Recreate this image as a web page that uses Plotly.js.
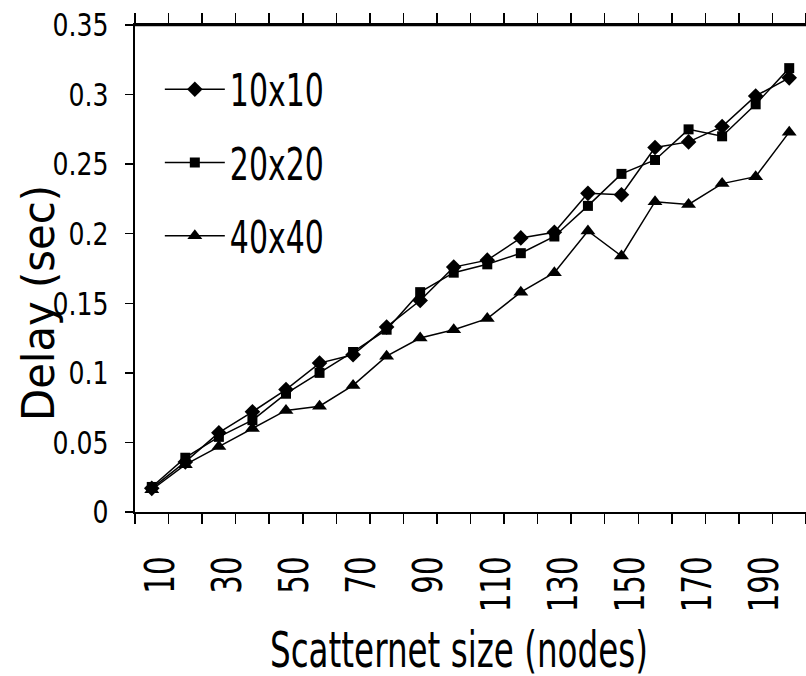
<!DOCTYPE html>
<html>
<head>
<meta charset="utf-8">
<script src="https://cdn.plot.ly/plotly-3.0.1.min.js"></script>
<style>
  html, body { margin: 0; padding: 0; background: #fff; }
  #chart { width: 806px; height: 676px; }
</style>
</head>
<body>
<div id="chart"></div>
<script>
// ---- data ----
const categories = ['10','20','30','40','50','60','70','80','90','100',
                    '110','120','130','140','150','160','170','180','190','200'];
const tickLabels = ['10','','30','','50','','70','','90','',
                    '110','','130','','150','','170','','190',''];
const seriesNames = ['10x10', '20x20', '40x40'];
const delay10x10 = [0.017, 0.036, 0.057, 0.072, 0.088, 0.107, 0.113, 0.133, 0.152, 0.176,
                    0.181, 0.197, 0.201, 0.229, 0.228, 0.262, 0.266, 0.277, 0.299, 0.312];
const delay20x20 = [0.018, 0.039, 0.054, 0.066, 0.085, 0.100, 0.115, 0.131, 0.158, 0.172,
                    0.178, 0.186, 0.198, 0.220, 0.243, 0.253, 0.275, 0.270, 0.293, 0.319];
const delay40x40 = [0.016, 0.034, 0.047, 0.060, 0.073, 0.076, 0.091, 0.112, 0.125, 0.131,
                    0.139, 0.158, 0.172, 0.202, 0.184, 0.223, 0.221, 0.236, 0.241, 0.273];
const yTicks = [0, 0.05, 0.1, 0.15, 0.2, 0.25, 0.3, 0.35];

const FONT = '"DejaVu Sans Condensed", "DejaVu Sans", sans-serif';
const symbols = ['diamond', 'square', 'triangle-up'];
const sizes = [12, 10, 13];
const values = [delay10x10, delay20x20, delay40x40];

const traces = values.map((v, i) => ({
  type: 'scatter',
  mode: 'lines+markers',
  name: seriesNames[i],
  legendgroup: seriesNames[i],
  x: categories,
  y: v,
  line: { color: '#000', width: 1.5 },
  marker: { symbol: symbols[i], size: sizes[i], color: '#000' }
}));

const layout = {
  width: 806, height: 676,
  margin: { l: 135, r: 0, t: 25, b: 164 },
  paper_bgcolor: '#fff', plot_bgcolor: '#fff',
  font: { family: FONT, color: '#000' },
  showlegend: true,
  legend: {
    x: 0.037, xanchor: 'left', y: 0.94, yanchor: 'top',
    bgcolor: 'rgba(0,0,0,0)', borderwidth: 0,
    font: { family: FONT, size: 44, color: '#000' },
    itemwidth: 60, traceorder: 'grouped', tracegroupgap: 13
  },
  shapes: [{
    type: 'line', layer: 'above', xref: 'paper', yref: 'paper',
    x0: 0, x1: 1, y0: 0.999, y1: 0.999,
    line: { color: '#000000', width: 1.5 }
  }],
  xaxis: {
    type: 'category', range: [-0.5, 19.5],
    tickmode: 'array', tickvals: categories, ticktext: tickLabels,
    tickson: 'boundaries', ticks: 'outside', ticklen: 10, tickwidth: 1.5, tickcolor: '#000',
    tickangle: -90, ticklabelstandoff: 26,
    tickfont: { family: FONT, size: 41, color: '#000' },
    showline: true, linecolor: '#000', linewidth: 2, mirror: 'all',
    showgrid: false, zeroline: false,
    title: { text: 'Scatternet size (nodes)', font: { family: FONT, size: 49, color: '#000' } }
  },
  yaxis: {
    range: [0, 0.35], tickmode: 'array', tickvals: yTicks,
    ticks: 'outside', ticklen: 8, tickwidth: 1.5, tickcolor: '#000',
    ticklabelstandoff: 10,
    tickfont: { family: FONT, size: 32, color: '#000' },
    showline: true, linecolor: '#000', linewidth: 2, mirror: false,
    showgrid: false, zeroline: false,
    title: { text: 'Delay (sec)', font: { family: FONT, size: 45, color: '#000' } }
  }
};

// Narrow the text along its own reading direction to match the condensed
// lettering of the reference, keeping each label's anchor fixed.
function squeeze(nodes, refText, targetLen) {
  nodes = nodes.filter(n => n.textContent.trim() !== '');
  if (!nodes.length) return;
  const ref = nodes.find(n => n.textContent.trim() === refText) || nodes[0];
  const w = ref.getBBox().width;
  if (!w) return;
  const s = targetLen / w;
  nodes.forEach(n => {
    const b = n.getBBox();
    const a = n.getAttribute('text-anchor') || 'start';
    const ax = a === 'end' ? b.x + b.width : (a === 'middle' ? b.x + b.width / 2 : b.x);
    const t = n.getAttribute('transform') || '';
    n.setAttribute('transform', t + ' translate(' + ax + ',0) scale(' + s + ',1) translate(' + (-ax) + ',0)');
  });
}
function moveTo(node, cx, cy) {
  if (!node) return;
  const host = document.getElementById('chart').getBoundingClientRect();
  const r = node.getBoundingClientRect();
  const dx = cx - (r.left - host.left + r.width / 2);
  const dy = cy - (r.top - host.top + r.height / 2);
  const t = node.getAttribute('transform') || '';
  node.setAttribute('transform', 'translate(' + dx + ',' + dy + ') ' + t);
}
function shiftAll(nodes, dx, dy) {
  nodes.forEach(n => {
    const t = n.getAttribute('transform') || '';
    n.setAttribute('transform', 'translate(' + dx + ',' + dy + ') ' + t);
  });
}

Plotly.newPlot('chart', traces, layout, { staticPlot: true }).then(gd => {
  const q = sel => Array.from(gd.querySelectorAll(sel));
  squeeze(q('.ytick text'), '0.35', 56);
  const xt = q('.xtick text');
  squeeze(xt, '110', 56);
  shiftAll(xt.filter(n => n.textContent.trim() !== ''), 9, 0);
  squeeze(q('.legend .legendtext'), '10x10', 94);
  const xTitle = gd.querySelector('.g-xtitle text');
  const yTitle = gd.querySelector('.g-ytitle text');
  if (xTitle) { squeeze([xTitle], xTitle.textContent, 378); moveTo(xTitle, 459, 650); }
  if (yTitle) { squeeze([yTitle], yTitle.textContent, 236); moveTo(yTitle, 39, 303); }
});
</script>
</body>
</html>
